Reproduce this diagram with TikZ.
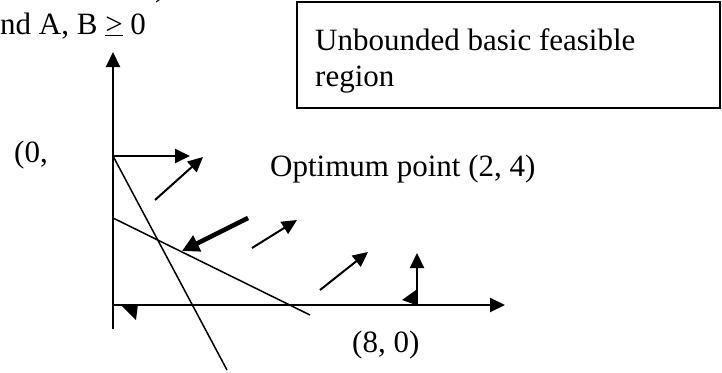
\documentclass[tikz,border=0pt]{standalone}
\usepackage{fontspec}
\setmainfont{Liberation Serif}
\usetikzlibrary{arrows.meta}
\begin{document}
\begin{tikzpicture}[x=1pt,y=-1pt,
  txt/.style={inner sep=0pt,anchor=base west,font=\fontsize{31}{36}\selectfont},
  axis/.style={line width=2pt,-{Triangle[length=15pt,width=14pt]}},
  thin/.style={line width=1.5pt},
  arr/.style={line width=2pt,-{Triangle[length=15pt,width=14pt]}},
  thickarr/.style={line width=4.5pt,-{Triangle[length=17pt,width=17pt]}},
  boxst/.style={draw,line width=1.5pt}]
\useasboundingbox (0,0) rectangle (722,372);
% fragment of the previous line
\node[txt] (frag) at (155,-3) {)};
\node[txt] (cond) at (0,34) {nd A, B \underline{>} 0};
% box
\draw[boxst] (297,2) rectangle (720,108);
\node[txt] (box1) at (315,50) {Unbounded basic feasible};
\node[txt] (box2) at (315,86) {region};
% axes
\coordinate (O) at (113,305);
\coordinate (ybot) at (113,329);
\coordinate (ytop) at (113,52);
\coordinate (xend) at (505,305);
\draw[axis] (ybot) -- (ytop);
\draw[axis] (O) -- (xend);
% constraint lines
\coordinate (l1a) at (113,156);
\coordinate (l1b) at (227,370);
\coordinate (l2a) at (113,218);
\coordinate (l2b) at (310,315);
\draw[thin] (l1a) -- (l1b);
\draw[thin] (l2a) -- (l2b);
% arrows
\coordinate (a1e) at (190,156);
\draw[arr] (l1a) -- (a1e);
\coordinate (a2s) at (155,200);
\coordinate (a2e) at (203,157);
\draw[arr] (a2s) -- (a2e);
\coordinate (a3s) at (248,218);
\coordinate (a3e) at (182,251);
\draw[thickarr] (a3s) -- (a3e);
\coordinate (a4s) at (252,248);
\coordinate (a4e) at (297,220);
\draw[arr] (a4s) -- (a4e);
\coordinate (a5s) at (320,290);
\coordinate (a5e) at (368,252);
\draw[arr] (a5s) -- (a5e);
\coordinate (a6s) at (417,305);
\coordinate (a6e) at (417,253);
\draw[arr] (a6s) -- (a6e);
% stray arrowheads
\fill (122,306) -- (138,304) -- (136,320) -- cycle;
\fill (402,300) -- (416,290) -- (416,305) -- cycle;
% labels
\node[txt] (p0) at (14,162) {(0,};
\node[txt] (opt) at (270,176) {Optimum point (2, 4)};
\node[txt] (p8) at (352,352) {(8, 0)};
\end{tikzpicture}
\end{document}
